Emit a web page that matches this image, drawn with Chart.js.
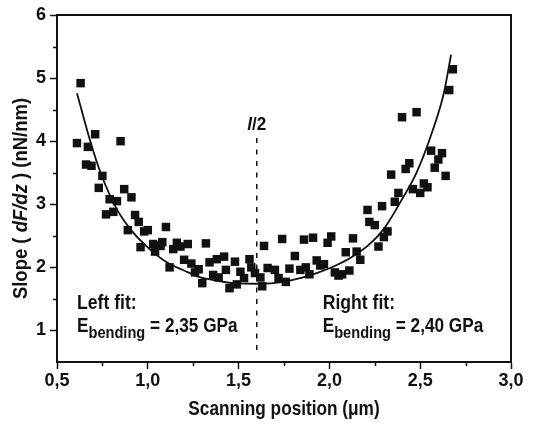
<!DOCTYPE html>
<html>
<head>
<meta charset="utf-8">
<script src="https://cdn.jsdelivr.net/npm/chart.js@4.4.1/dist/chart.umd.min.js"></script>
<style>
  html, body { margin: 0; padding: 0; background: #fff; }
  #wrap { width: 545px; height: 428px; }
</style>
</head>
<body>
<div id="wrap"><canvas id="c" width="545" height="428"></canvas></div>
<script>
'use strict';

const FAMILY = '"Liberation Sans", Arial, Helvetica, sans-serif';
const INK = '#111111';

// measured slope along the beam (um, nN/nm)
const posX = [0.61,0.63,0.66,0.67,0.69,0.71,0.73,0.75,0.77,0.79,0.81,0.83,0.85,0.87,0.89,0.91,0.93,0.95,0.96,0.98,
  1.00,1.03,1.04,1.07,1.08,1.10,1.12,1.14,1.16,1.18,1.20,1.22,1.24,1.26,1.28,1.30,1.32,1.34,1.36,1.38,
  1.39,1.42,1.43,1.45,1.48,1.49,1.51,1.53,1.56,1.57,1.59,1.62,1.63,1.64,1.66,1.70,1.72,1.74,1.76,1.78,
  1.81,1.84,1.86,1.87,1.89,1.91,1.93,1.95,1.97,1.99,2.01,2.03,2.05,2.07,2.09,2.11,2.13,2.15,2.17,2.21,
  2.22,2.25,2.27,2.29,2.30,2.32,2.34,2.36,2.38,2.40,2.42,2.44,2.46,2.48,2.50,2.52,2.54,2.56,2.58,2.60,
  2.62,2.64,2.66,2.68];
const slopeY = [3.97,4.92,3.63,3.91,3.61,4.11,3.26,3.45,2.84,3.08,2.88,3.05,4.00,3.24,2.59,3.11,2.83,2.72,2.32,2.57,
  2.59,2.37,2.25,2.34,2.40,2.64,2.00,2.29,2.39,2.33,2.12,2.37,2.06,1.92,1.97,1.75,2.38,2.08,1.88,2.13,
  1.84,2.17,1.96,1.67,2.09,1.73,1.93,1.83,2.13,2.00,1.91,1.84,1.70,2.34,1.99,1.96,1.83,2.45,1.77,1.98,
  2.18,1.96,2.44,2.00,1.89,2.47,2.11,2.03,2.05,2.39,2.49,1.92,1.87,1.89,2.24,1.95,2.46,2.25,2.12,2.91,
  2.72,2.67,2.33,2.97,2.48,2.57,3.47,3.04,3.18,4.38,3.56,3.65,3.24,4.46,3.18,3.33,3.27,3.85,3.58,3.71,
  3.81,3.45,4.81,5.14];

// fitted curve
const fitX = [0.61,0.68,0.74,0.83,0.92,1.01,1.10,1.20,1.29,1.38,1.47,1.60,1.75,1.84,1.93,2.02,2.11,2.21,2.30,2.39,2.48,2.57,2.63,2.67];
const fitY = [4.76,4.03,3.50,2.92,2.55,2.29,2.09,1.95,1.84,1.79,1.75,1.74,1.77,1.83,1.91,2.01,2.14,2.34,2.61,3.03,3.50,4.18,4.76,5.37];

// l/2 marker
const halfX = [1.6, 1.6];
const halfY = [4.05, 0.62];

const xTicks = [0.5, 1.0, 1.5, 2.0, 2.5, 3.0];
const xMinor = [0.75, 1.25, 1.75, 2.25, 2.75];
const yTicks = [1, 2, 3, 4, 5, 6];
const yMinor = [1.5, 2.5, 3.5, 4.5, 5.5];

const zip = (xs, ys) => xs.map((x, i) => ({ x, y: ys[i] }));
const fmt = v => v.toFixed(1).replace('.', ',');

const bold = s => `bold ${s}px ${FAMILY}`;
const boldIt = s => `italic bold ${s}px ${FAMILY}`;

function runsWidth(ctx, runs) {
  let w = 0;
  runs.forEach(r => { ctx.font = r.font; w += ctx.measureText(r.t).width; });
  return w;
}

// draw styled pieces in a row, squeezed horizontally by sx
// align: 0 = left at x, 0.5 = centred on x
function drawRuns(ctx, runs, x, y, sx, align) {
  const w = runsWidth(ctx, runs) * sx;
  ctx.save();
  ctx.translate(x - w * (align || 0), y);
  ctx.scale(sx, 1);
  let cx = 0;
  runs.forEach(r => {
    ctx.font = r.font;
    ctx.fillText(r.t, cx, r.dy || 0);
    cx += ctx.measureText(r.t).width;
  });
  ctx.restore();
}

const framePlugin = {
  id: 'frameAndText',
  afterDraw(chart) {
    const { ctx, chartArea: a, scales: { x, y } } = chart;
    ctx.save();
    ctx.strokeStyle = INK;
    ctx.fillStyle = INK;
    ctx.textAlign = 'left';
    ctx.textBaseline = 'alphabetic';

    // box frame
    ctx.lineWidth = 2;
    ctx.strokeRect(a.left, a.top, a.right - a.left, a.bottom - a.top);

    // minor ticks
    ctx.lineWidth = 1.5;
    ctx.beginPath();
    xMinor.forEach(v => {
      const px = Math.round(x.getPixelForValue(v)) + 0.5;
      ctx.moveTo(px, a.bottom); ctx.lineTo(px, a.bottom + 4);
    });
    yMinor.forEach(v => {
      const py = Math.round(y.getPixelForValue(v)) + 0.5;
      ctx.moveTo(a.left, py); ctx.lineTo(a.left - 4, py);
    });
    ctx.stroke();

    // axis titles
    drawRuns(ctx, [{ t: 'Scanning position (\u03bcm)', font: bold(21) }],
      (a.left + a.right) / 2, a.bottom + 53, 0.82, 0.5);

    ctx.save();
    ctx.translate(a.left - 30, (a.top + a.bottom) / 2 + 10);
    ctx.rotate(-Math.PI / 2);
    drawRuns(ctx, [
      { t: 'Slope ( ', font: bold(21) },
      { t: 'dF/dz', font: boldIt(21) },
      { t: ' ) (nN/nm)', font: bold(21) },
    ], 0, 0, 0.88, 0.5);
    ctx.restore();

    // l/2 label
    drawRuns(ctx, [{ t: 'l', font: boldIt(19) }, { t: '/2', font: bold(19) }],
      x.getPixelForValue(1.6), y.getPixelForValue(4.17), 0.9, 0.5);

    // fit annotations
    const note = (vx, title, value) => {
      const px = x.getPixelForValue(vx);
      drawRuns(ctx, [{ t: title, font: bold(20) }], px, y.getPixelForValue(1.34), 0.88, 0);
      drawRuns(ctx, [
        { t: 'E', font: bold(20) },
        { t: 'bending', font: bold(17), dy: 6 },
        { t: ' = ' + value, font: bold(20) },
      ], px, y.getPixelForValue(0.98), 0.86, 0);
    };
    note(0.61, 'Left fit:', '2,35 GPa');
    note(1.963, 'Right fit:', '2,40 GPa');

    ctx.restore();
  },
};

new Chart(document.getElementById('c'), {
  type: 'scatter',
  plugins: [framePlugin],
  data: {
    datasets: [
      {
        label: 'measured',
        data: zip(posX, slopeY),
        pointStyle: 'rect',
        pointRadius: 6,
        backgroundColor: INK,
        borderColor: INK,
        borderWidth: 0,
        order: 1,
      },
      {
        label: 'fit',
        data: zip(fitX, fitY),
        showLine: true,
        pointRadius: 0,
        borderColor: INK,
        borderWidth: 1.8,
        cubicInterpolationMode: 'monotone',
        order: 2,
      },
      {
        label: 'half',
        data: zip(halfX, halfY),
        showLine: true,
        pointRadius: 0,
        borderColor: INK,
        borderWidth: 1.5,
        borderDash: [5, 6.5],
        order: 3,
      },
    ],
  },
  options: {
    responsive: false,
    animation: false,
    devicePixelRatio: 1,
    layout: { padding: { left: 0, right: 34, top: 15, bottom: 0 } },
    plugins: { legend: { display: false }, tooltip: { enabled: false } },
    scales: {
      x: {
        type: 'linear',
        min: 0.5,
        max: 3.0,
        afterBuildTicks: s => { s.ticks = xTicks.map(value => ({ value })); },
        afterFit: s => { s.height = 66; },
        grid: { drawOnChartArea: false, drawTicks: true, tickLength: 7, tickColor: INK, tickWidth: 1.5 },
        border: { color: INK, width: 2 },
        ticks: {
          color: INK,
          padding: 1,
          maxRotation: 0,
          font: { family: FAMILY, size: 18, weight: 'bold' },
          callback: v => fmt(v),
        },
      },
      y: {
        type: 'linear',
        min: 0.5,
        max: 6,
        afterBuildTicks: s => { s.ticks = yTicks.map(value => ({ value })); },
        afterFit: s => { s.width = 57; },
        grid: { drawOnChartArea: false, drawTicks: true, tickLength: 7, tickColor: INK, tickWidth: 1.5 },
        border: { color: INK, width: 2 },
        ticks: {
          color: INK,
          padding: 4,
          font: { family: FAMILY, size: 18, weight: 'bold' },
          callback: v => String(v),
        },
      },
    },
  },
});
</script>
</body>
</html>
